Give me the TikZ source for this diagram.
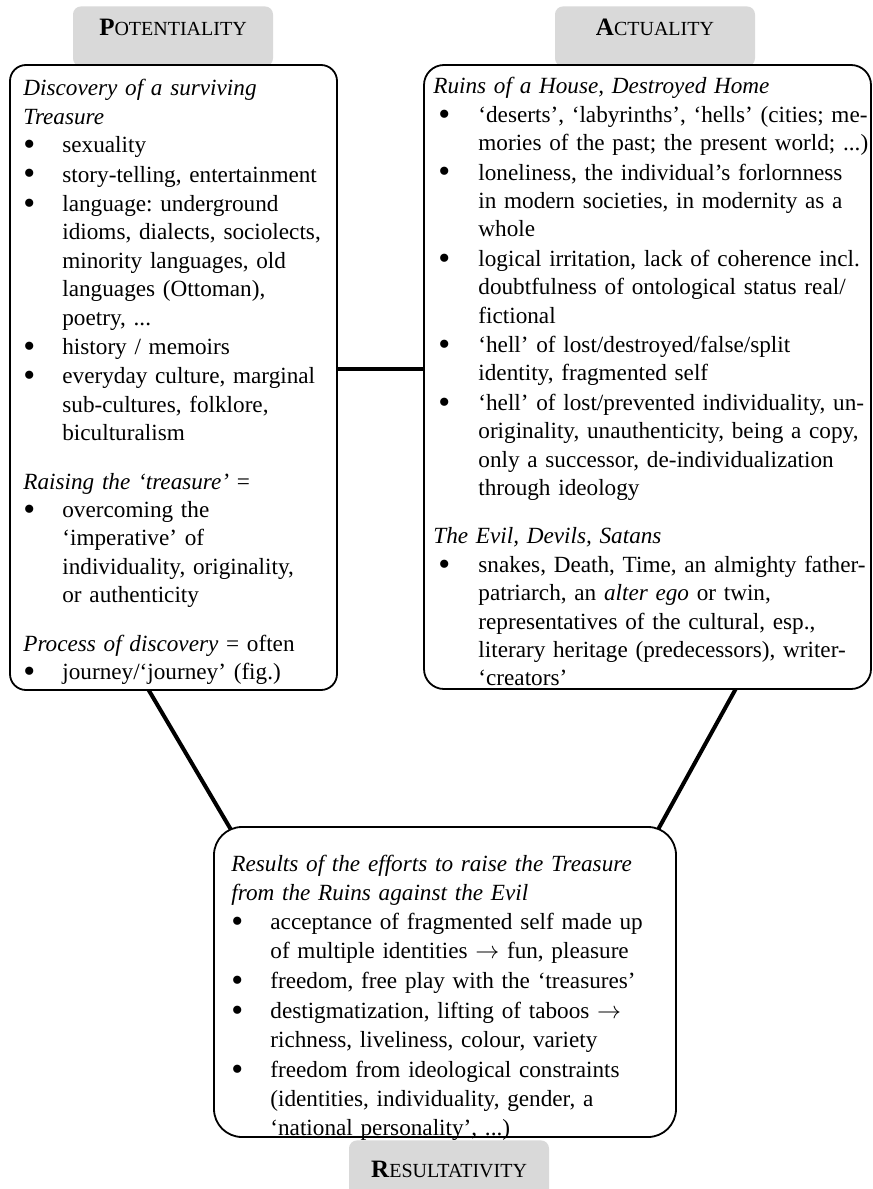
\documentclass[tikz,border=0pt]{standalone}
\usepackage{fontspec}
\setmainfont{Liberation Serif}
\usetikzlibrary{backgrounds}

\definecolor{tabgray}{rgb}{0.85,0.85,0.85}

\newlength\bulpos
\newlength\bulind
\newcommand{\bul}{\smash{\raisebox{-1.4pt}{\fontsize{17pt}{0pt}\selectfont\textbullet}}}
% one bullet item, lines broken by hand
\newcommand{\itm}[1]{\par\noindent\hangindent=\bulind\hangafter=1\hbox to\bulind{\hskip\bulpos\bul\hfil}#1\par\vspace{0.5pt}}
\newcommand{\hd}[1]{\par\noindent\rule{0pt}{10pt}#1\par}
\newcommand{\tabtext}[2]{\textbf{#1}{\fontsize{10pt}{10pt}\selectfont #2}}

\tikzset{
  tab/.style={anchor=north, fill=tabgray, rounded corners=4pt, minimum width=100pt,
    inner sep=0pt, text depth=15.5pt, font=\fontsize{12.5pt}{14pt}\selectfont},
  panel/.style={draw, fill=white, line width=0.9pt, inner sep=0pt},
  txt/.style={anchor=north west, inner sep=0pt, align=left, text width=#1},
  link/.style={line width=2pt}
}

\begin{document}
\begin{tikzpicture}[x=0.5pt, y=-0.5pt]
    \useasboundingbox (0,0) rectangle (873,1189);

    % headers
    \node[tab, text height=14.5pt] (pothd) at (173,6) {\tabtext{P}{OTENTIALITY}};
    \node[tab, text height=14.5pt] (acthd) at (655,6) {\tabtext{A}{CTUALITY}};
    \node[tab, text height=18.5pt] (reshd) at (449,1140) {\tabtext{R}{ESULTATIVITY}};

    % boxes
    \node[panel, rounded corners=8pt, minimum width=163.5pt, minimum height=312.5pt] (pot) at (173.5,377.5) {};
    \node[panel, rounded corners=10pt, minimum width=223.5pt, minimum height=312pt] (act) at (647.5,377) {};
    \node[panel, rounded corners=14pt, minimum width=231pt, minimum height=155pt] (res) at (445,982) {};

    % left text
    \node[txt=162pt, font=\fontsize{11.6pt}{14.2pt}\selectfont\frenchspacing,
      execute at begin node={\setlength\bulpos{0pt}\setlength\bulind{19.5pt}}] (pottxt) at (23,67) {%
        \hd{\textit{Discovery of a surviving\newline Treasure}}
        \itm{sexuality}
        \itm{story-telling, entertainment}
        \itm{language: underground\newline idioms, dialects, sociolects,\newline minority languages, old\newline languages (Ottoman),\newline poetry, ...}
        \itm{history / memoirs}
        \itm{everyday culture, marginal\newline sub-cultures, folklore,\newline biculturalism}
        \vspace{9.5pt}
        \hd{\textit{Raising the ‘treasure’} =}
        \itm{overcoming the\newline ‘imperative’ of\newline individuality, originality,\newline or authenticity}
        \vspace{9.5pt}
        \hd{\textit{Process of discovery} = often}
        \itm{journey/‘journey’ (fig.)}};

    % right text
    \node[txt=222pt, font=\fontsize{11.6pt}{14.2pt}\selectfont\frenchspacing,
      execute at begin node={\setlength\bulpos{2.5pt}\setlength\bulind{22.5pt}}] (acttxt) at (433,65) {%
        \hd{\textit{Ruins of a House, Destroyed Home}}
        \itm{‘deserts’, ‘labyrinths’, ‘hells’ (cities; me-\newline mories of the past; the present world; ...)}
        \itm{loneliness, the individual’s forlornness\newline in modern societies, in modernity as a\newline whole}
        \itm{logical irritation, lack of coherence incl.\newline doubtfulness of ontological status real/\newline fictional}
        \itm{‘hell’ of lost/destroyed/false/split\newline identity, fragmented self}
        \itm{‘hell’ of lost/prevented individuality, un-\newline originality, unauthenticity, being a copy,\newline only a successor, de-individualization\newline through ideology}
        \vspace{9.5pt}
        \hd{\textit{The Evil, Devils, Satans}}
        \itm{snakes, Death, Time, an almighty father-\newline patriarch, an \textit{alter ego} or twin,\newline representatives of the cultural, esp.,\newline literary heritage (predecessors), writer-\newline ‘creators’}};

    % bottom text
    \node[txt=222pt, font=\fontsize{11.6pt}{14.5pt}\selectfont\frenchspacing,
      execute at begin node={\setlength\bulpos{0pt}\setlength\bulind{19.5pt}}] (restxt) at (231,842) {%
        \hd{\textit{Results of the efforts to raise the Treasure\newline from the Ruins against the Evil}}
        \itm{acceptance of fragmented self made up\newline of multiple identities $\rightarrow$ fun, pleasure}
        \itm{freedom, free play with the ‘treasures’}
        \itm{destigmatization, lifting of taboos $\rightarrow$\newline richness, liveliness, colour, variety}
        \itm{freedom from ideological constraints\newline (identities, individuality, gender, a\newline ‘national personality’, ...)}};

    % connectors
    \begin{pgfonlayer}{background}
        \draw[link] ([yshift=4.25pt]pot.east) -- ([yshift=4.25pt]pot.east -| act.west);
        \draw[link] ([xshift=69pt, yshift=1.75pt]pot.south west) -- ([xshift=9.5pt, yshift=-2.75pt]res.north west);
        \draw[link] ([xshift=157pt, yshift=1.75pt]act.south west) -- ([xshift=-10pt, yshift=-2.75pt]res.north east);
    \end{pgfonlayer}
\end{tikzpicture}
\end{document}
